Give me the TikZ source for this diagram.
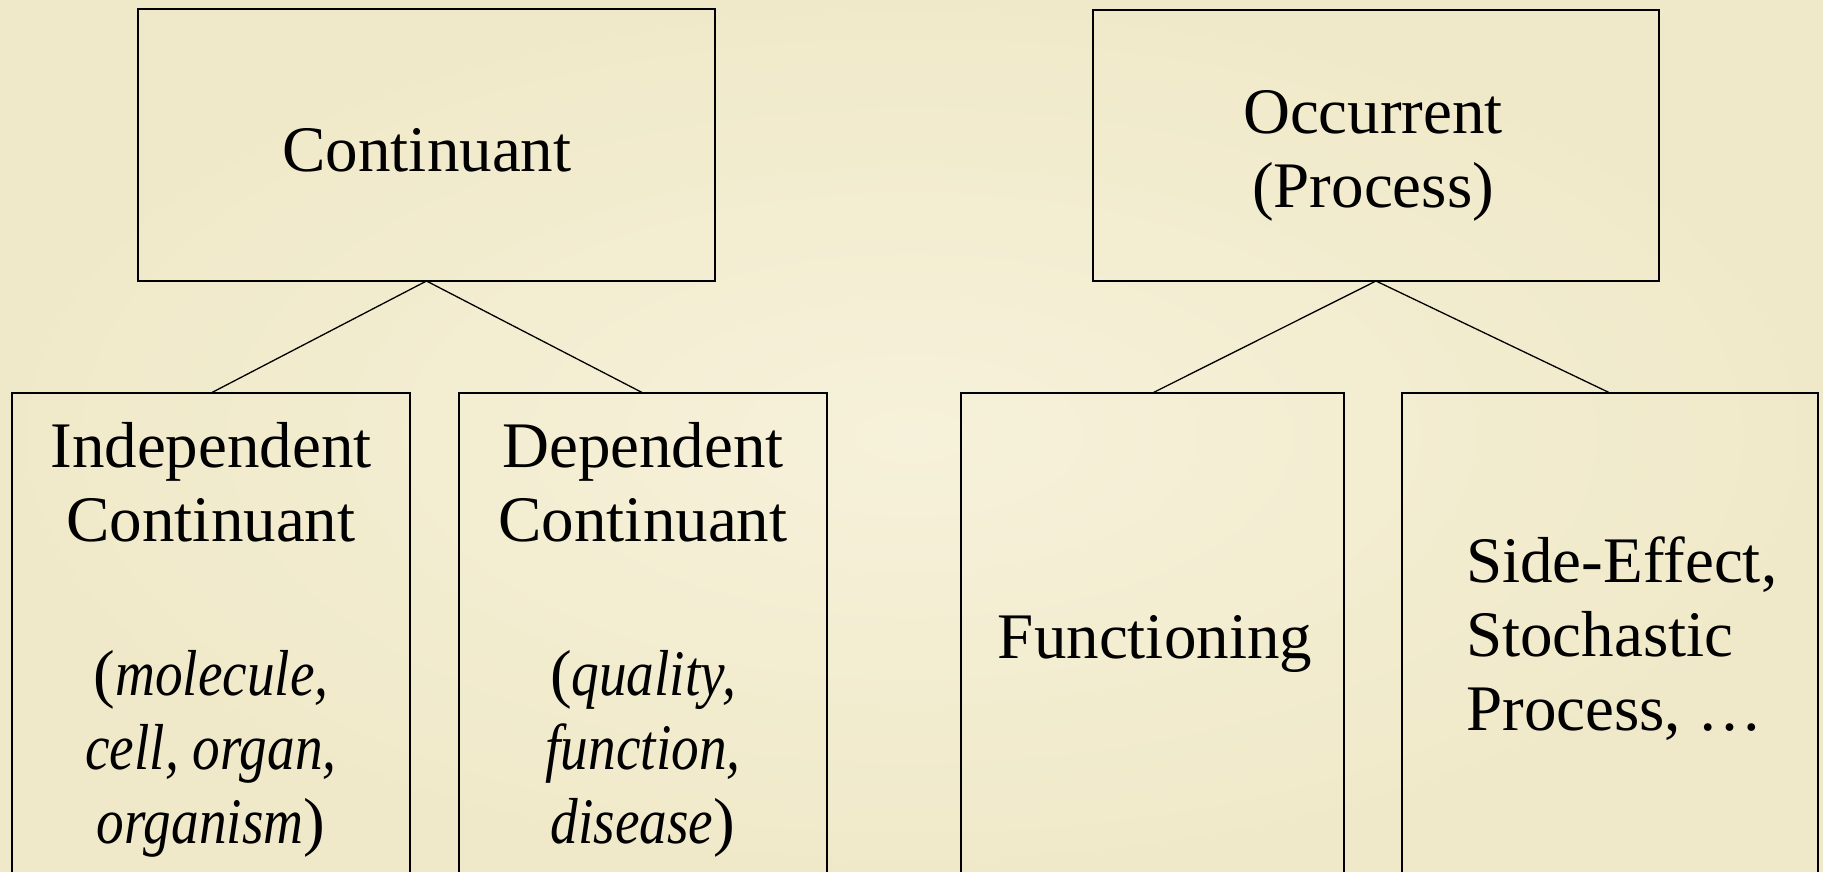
\documentclass[tikz,border=0pt]{standalone}
\usepackage{fontspec}
\setmainfont{Liberation Serif}
\newfontfamily\narrowit[FakeStretch=0.85]{Liberation Serif Italic}
\definecolor{paperin}{HTML}{F6F1DA}
\definecolor{paperout}{HTML}{F0E9C9}
% fixed height for the first line of every text block
\newcommand\firstline{\rule{0pt}{50pt}}
\newcommand\exword[1]{{\narrowit #1}}
\begin{document}
\begin{tikzpicture}[x=1pt,y=-1pt,
  catbox/.style={draw=black, line width=1.6pt, inner sep=0pt, outer sep=0pt, anchor=north west},
  boxtext/.style={inner sep=0pt, font=\fontsize{65}{74}\selectfont, align=center, anchor=north},
  branch/.style={line width=1.3pt}]
\useasboundingbox (0,0) rectangle (1823,871);
\clip (0,0) rectangle (1823,871);
\shade[inner color=paperin, outer color=paperout] (0,0) rectangle (1823,871);

% category boxes
\node[catbox, minimum width=577pt, minimum height=272pt] (cont)  at (138,9)   {};
\node[catbox, minimum width=566pt, minimum height=271pt] (occ)   at (1093,10) {};
\node[catbox, minimum width=398pt, minimum height=600pt] (indep) at (12,393)  {};
\node[catbox, minimum width=368pt, minimum height=600pt] (dep)   at (459,393) {};
\node[catbox, minimum width=383pt, minimum height=600pt] (func)  at (961,393) {};
\node[catbox, minimum width=416pt, minimum height=600pt] (side)  at (1402,393) {};

% labels
\node[boxtext] (contT) at (427,121) {\firstline Continuant};
\node[boxtext] (occT)  at (1373,83) {\firstline Occurrent\\(Process)};
\node[boxtext] (indepT) at (211,417)
  {\firstline Independent\\Continuant\\[80pt](\exword{molecule,}\\\exword{cell, organ,}\\\exword{organism})};
\node[boxtext] (depT) at (643,417)
  {\firstline Dependent\\Continuant\\[80pt](\exword{quality,}\\\exword{function,}\\\exword{disease})};
\node[boxtext] (funcT) at (1155,608) {\firstline Functioning};
\node[boxtext, align=left, anchor=north west] (sideT) at (1466,532)
  {\firstline Side-Effect,\\Stochastic\\Process, …};

% branches
\draw[branch] (cont.south) -- (indep.north);
\draw[branch] (cont.south) -- (dep.north);
\draw[branch] (occ.south) -- (func.north);
\draw[branch] (occ.south) -- (side.north);
\end{tikzpicture}
\end{document}
